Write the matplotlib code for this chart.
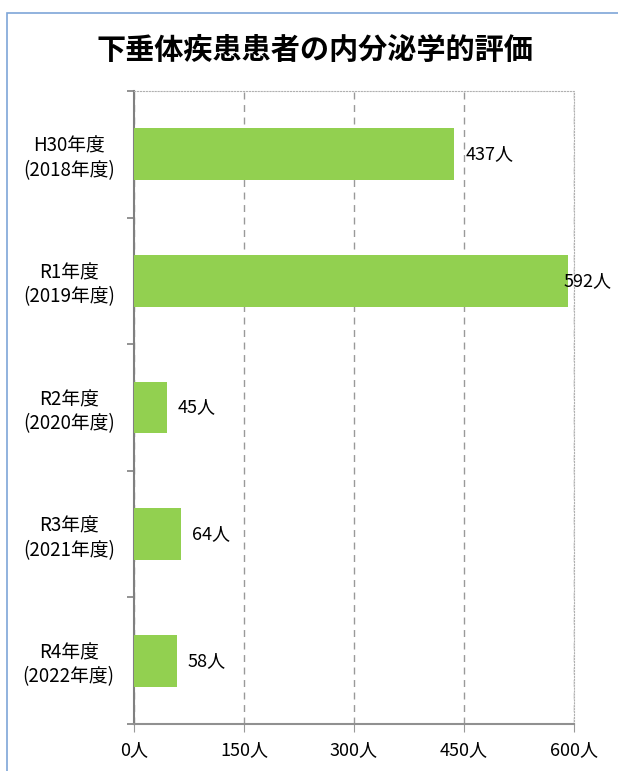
import matplotlib.pyplot as plt
from matplotlib.patches import Rectangle

plt.rcParams['font.family'] = ['Noto Sans CJK JP', 'DejaVu Sans']

title = '下垂体疾患患者の内分泌学的評価'
categories = ['H30年度\n(2018年度)', 'R1年度\n(2019年度)', 'R2年度\n(2020年度)',
              'R3年度\n(2021年度)', 'R4年度\n(2022年度)']
values = [437, 592, 45, 64, 58]
xticks = [0, 150, 300, 450, 600]

fig = plt.figure(figsize=(6.18, 7.71), dpi=100)
# chart frame (only left and top edges visible in the crop)
fig.patches.append(Rectangle((7 / 618, -0.1), 1.2, 1 - 13 / 771 + 0.1,
                             transform=fig.transFigure, fill=False,
                             edgecolor='#7ea6d8', linewidth=1.2))

ax = fig.add_axes([0.2168, 0.061, 0.712, 0.821])
pos = list(range(len(categories)))
ax.barh(pos, values, height=0.41, color='#92D050', zorder=3)

ax.set_xlim(0, 600)
ax.set_ylim(4.5, -0.5)
ax.set_xticks(xticks)
ax.set_xticklabels([f'{v}人' for v in xticks], fontsize=13)
ax.tick_params(axis='x', length=6, color='#999999', pad=6)

ax.set_yticks([p - 0.5 for p in pos] + [4.5])
ax.set_yticklabels([])
ax.tick_params(axis='y', which='major', length=5, color='#808080', width=1.2)
ax.set_yticks(pos, minor=True)
ax.set_yticklabels(categories, minor=True, fontsize=13.5, ha='center',
                   linespacing=1.2)
ax.tick_params(axis='y', which='minor', length=0, pad=47)

ax.grid(axis='x', linestyle=(0, (5, 4)), color='#999999', linewidth=1)
ax.set_axisbelow(True)

for s in ['top', 'right']:
    ax.spines[s].set_linestyle(':')
    ax.spines[s].set_color('#b0b0b0')
ax.spines['left'].set_color('#808080')
ax.spines['left'].set_linewidth(1.5)
ax.spines['bottom'].set_color('#909090')
ax.spines['bottom'].set_linewidth(1.5)

for p, v in zip(pos, values):
    off = 8 if v < 560 else -3
    ax.annotate(f'{v}人', (v, p), xytext=(off, 0), textcoords='offset points',
                va='center', ha='left', fontsize=13, zorder=4)

fig.text(0.51, 1 - 50 / 771, title, ha='center', va='center',
         fontsize=21, fontweight='bold')

fig.savefig('out.png')
